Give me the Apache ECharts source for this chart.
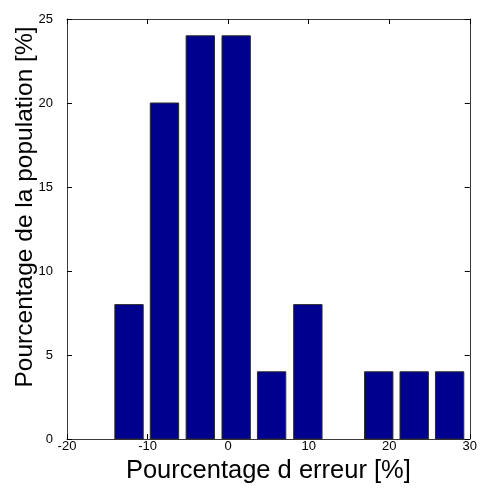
<!DOCTYPE html>
<html>
<head>
<meta charset="utf-8">
<script src="https://cdn.jsdelivr.net/npm/echarts@6/dist/echarts.min.js"></script>
<style>
  html, body { margin: 0; padding: 0; background: #fff; }
  #chart { width: 480px; height: 491px; }
</style>
</head>
<body>
<div id="chart"></div>
<script>
// histogram bins (centre of each bin, in %) and their heights
const binCenters = [-12.3, -7.9, -3.45, 1.0, 5.4, 9.9, 14.3, 18.7, 23.1, 27.5];
const percentages = [8, 20, 24, 24, 4, 8, 0, 4, 4, 4];
const xTicks = [-20, -10, 0, 10, 20, 30];
const yTicks = [0, 5, 10, 15, 20, 25];

const xTitle = 'Pourcentage d erreur [%]';
const yTitle = 'Pourcentage de la population [%]';

let chartDom = document.getElementById('chart');
let myChart = echarts.init(chartDom);

// bar width = 0.8 of a bin, like matlab bar()
const barHalf = 0.8 * (binCenters[1] - binCenters[0]) / 2;

const font = 'Liberation Sans, Arial, sans-serif';
const lineColor = '#3a3a3a';

function boxAxis(extra) {
  return Object.assign({
    type: 'value',
    axisLine: { show: true, onZero: false, lineStyle: { color: lineColor, width: 1 } },
    axisTick: { show: true, inside: true, length: 5, lineStyle: { color: '#000' } },
    splitLine: { show: false }
  }, extra);
}

let option = {
  animation: false,
  grid: { left: 67, right: 8, top: 19, bottom: 52 },
  xAxis: [
    boxAxis({
      position: 'bottom',
      min: xTicks[0], max: xTicks[xTicks.length - 1], interval: 10,
      axisLabel: { margin: 1, fontSize: 13, color: '#000', fontFamily: font },
      name: xTitle,
      nameLocation: 'middle',
      nameGap: 17,
      nameTextStyle: { fontSize: 25.5, color: '#000', fontFamily: font }
    }),
    boxAxis({
      position: 'top',
      min: xTicks[0], max: xTicks[xTicks.length - 1], interval: 10,
      axisLabel: { show: false }
    })
  ],
  yAxis: [
    boxAxis({
      position: 'left',
      min: yTicks[0], max: yTicks[yTicks.length - 1], interval: 5,
      axisLabel: { margin: 14, fontSize: 13, color: '#000', fontFamily: font }
    }),
    boxAxis({
      position: 'right',
      min: yTicks[0], max: yTicks[yTicks.length - 1], interval: 5,
      axisLabel: { show: false }
    })
  ],
  graphic: [
    {
      type: 'text',
      x: 25, y: 207,
      rotation: Math.PI / 2,
      style: {
        text: yTitle,
        fontSize: 24.5,
        fontFamily: font,
        fill: '#000',
        textAlign: 'center',
        textVerticalAlign: 'middle'
      }
    }
  ],
  series: [
    {
      type: 'custom',
      xAxisIndex: 0,
      yAxisIndex: 0,
      encode: { x: 0, y: 1 },
      data: binCenters.map((c, i) => [c, percentages[i]]),
      renderItem: function (params, api) {
        const c = api.value(0);
        const v = api.value(1);
        if (!v) return null;
        const p0 = api.coord([c - barHalf, v]);
        const p1 = api.coord([c + barHalf, 0]);
        return {
          type: 'rect',
          shape: { x: p0[0], y: p0[1], width: p1[0] - p0[0], height: p1[1] - p0[1] },
          style: { fill: '#00008f', stroke: '#2a2a2a', lineWidth: 1 }
        };
      }
    }
  ]
};

myChart.setOption(option);
</script>
</body>
</html>
